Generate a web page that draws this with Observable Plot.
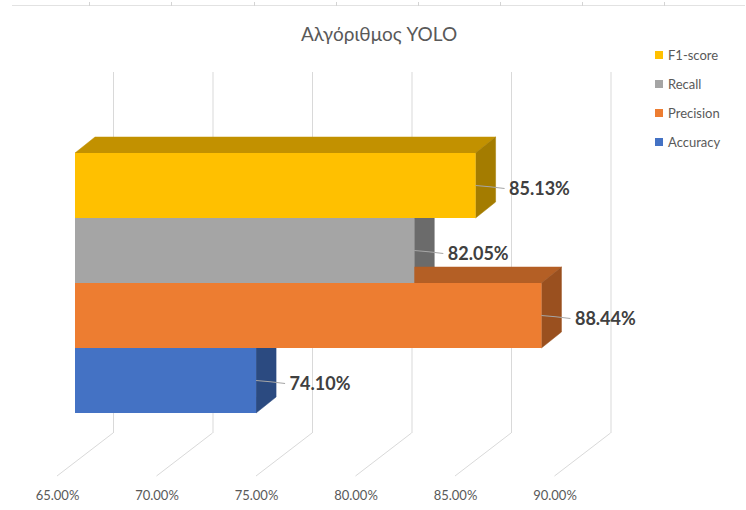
<!DOCTYPE html>
<html>
<head>
<meta charset="utf-8">
<script src="https://cdn.jsdelivr.net/npm/d3@7"></script>
<script src="https://cdn.jsdelivr.net/npm/@observablehq/plot@0.6"></script>
<style>
  body { margin: 0; background: #fff; }
  #wrap { position: relative; width: 746px; height: 510px; overflow: hidden; font-family: Lato, "Open Sans", sans-serif; background: #fff; }
  #chart { position: absolute; left: 0; top: 0; }
  #title { position: absolute; left: 379px; top: 24px; transform: translateX(-50%); font-size: 19px; line-height: 19px; color: #595959; white-space: nowrap; }
  .topline { position: absolute; left: 12px; top: 5px; width: 733px; height: 0; border-top: 1.5px solid #e2e2e2; }
  .tick { position: absolute; top: 2px; width: 1px; height: 4px; background: #d4d4d4; }
  .lg-sw { position: absolute; width: 8px; height: 8px; }
  .lg-tx { position: absolute; font-size: 13px; line-height: 13px; color: #595959; white-space: nowrap; }
</style>
</head>
<body>
<div id="wrap">
  <div class="topline"></div>
  <div id="chart"></div>
  <div id="title">Αλγόριθμος YOLO</div>
  <div id="legend"></div>
</div>
<script>
// ---- data ----
const categories = ["F1-score", "Recall", "Precision", "Accuracy"];
const values = [85.13, 82.05, 88.44, 74.10];
const frontColors = ["#FFC000", "#A5A5A5", "#ED7D31", "#4472C4"];
const topColors = ["#C29100", "#7D7D7D", "#B45F25", "#345794"];
const sideColors = ["#A47C00", "#6B6B6B", "#9A501F", "#2B4A80"];
const xTicks = [65, 70, 75, 80, 85, 90];
const legendOrder = ["F1-score", "Recall", "Precision", "Accuracy"];
const titleText = "Αλγόριθμος YOLO";

const data = categories.map((name, i) => ({
  name, value: values[i], front: frontColors[i], top: topColors[i], side: sideColors[i]
}));

// ---- 3D look parameters (pixels) ----
const DX = 20, DY = -16;          // bar depth
const WALL_DX = 38;               // back wall offset
const FLOOR_DX = -56, FLOOR_DY = 43; // floor depth lines
const fmt = d => d.toFixed(2) + "%";

function floorLines(index, scales, values, dims) {
  const g = d3.create("svg:g").attr("stroke", "#d9d9d9").attr("stroke-width", 1);
  const yb = dims.height - dims.marginBottom;
  for (const t of xTicks) {
    const x = scales.x(t) + WALL_DX;
    g.append("line").attr("x1", x).attr("y1", yb).attr("x2", x + FLOOR_DX).attr("y2", yb + FLOOR_DY);
  }
  return g.node();
}

function faces3d(index, scales) {
  const g = d3.create("svg:g");
  const bw = scales.y.bandwidth ? scales.y.bandwidth() : (scales.y(categories[1]) - scales.y(categories[0]));
  const x0 = scales.x(xTicks[0]);
  for (const d of data) {
    const x1 = scales.x(d.value);
    const yt = scales.y(d.name), yb = yt + bw;
    g.append("path")
      .attr("d", `M${x0},${yt}L${x1},${yt}L${x1 + DX},${yt + DY}L${x0 + DX},${yt + DY}Z`)
      .attr("fill", d.top).attr("stroke", d.top).attr("stroke-width", 0.5);
    g.append("path")
      .attr("d", `M${x1},${yt}L${x1 + DX},${yt + DY}L${x1 + DX},${yb + DY}L${x1},${yb}Z`)
      .attr("fill", d.side).attr("stroke", d.side).attr("stroke-width", 0.5);
  }
  return g.node();
}

function leaders(index, scales) {
  const g = d3.create("svg:g").attr("stroke", "#a6a6a6").attr("stroke-width", 1.2).attr("fill", "none");
  const bw = scales.y.bandwidth ? scales.y.bandwidth() : (scales.y(categories[1]) - scales.y(categories[0]));
  for (const d of data) {
    const x = scales.x(d.value), y = scales.y(d.name) + bw / 2;
    g.append("path").attr("d", `M${x},${y}Q${x + 14},${y + 1} ${x + 29},${y + 3}`);
  }
  return g.node();
}

const chart = Plot.plot({
  width: 746,
  height: 510,
  marginTop: 72,
  marginBottom: 77,
  marginLeft: 0,
  marginRight: 0,
  style: { fontFamily: "Lato, 'Open Sans', sans-serif", color: "#595959", background: "transparent" },
  x: { type: "linear", domain: [65, 90], range: [75, 572.5], axis: null },
  y: { type: "band", domain: categories, range: [151, 414], padding: 0, axis: null },
  color: { domain: categories, range: frontColors },
  marks: [
    Plot.ruleX(xTicks, { x: d => d, dx: WALL_DX, stroke: "#d9d9d9", strokeWidth: 1 }),
    floorLines,
    faces3d,
    Plot.barX(data, { x1: () => xTicks[0], x2: "value", y: "name", fill: "name" }),
    leaders,
    Plot.text(data, {
      x: "value", y: "name", text: d => fmt(d.value),
      dx: 33, dy: 3, textAnchor: "start",
      fill: "#404040", fontWeight: "bold", fontSize: 18
    }),
    Plot.text(xTicks, {
      x: d => d, frameAnchor: "bottom", text: d => fmt(d),
      dx: -18, dy: 66, fill: "#595959", fontSize: 13
    })
  ]
});
document.getElementById("chart").appendChild(chart);

// ---- legend ----
const legend = document.getElementById("legend");
legendOrder.forEach((name, i) => {
  const base = 60.5 + i * 28.9;
  const sw = document.createElement("div");
  sw.className = "lg-sw";
  sw.style.left = "655px";
  sw.style.top = (base - 9.5) + "px";
  sw.style.background = frontColors[categories.indexOf(name)];
  legend.appendChild(sw);
  const tx = document.createElement("div");
  tx.className = "lg-tx";
  tx.style.left = "668px";
  tx.style.top = (base - 11.5) + "px";
  tx.textContent = name;
  legend.appendChild(tx);
});

// ---- decorative top border ticks (spreadsheet edge) ----
const wrap = document.getElementById("wrap");
[89, 171, 254, 336, 418, 500, 582, 664].forEach(x => {
  const t = document.createElement("div");
  t.className = "tick";
  t.style.left = x + "px";
  wrap.appendChild(t);
});
</script>
</body>
</html>
